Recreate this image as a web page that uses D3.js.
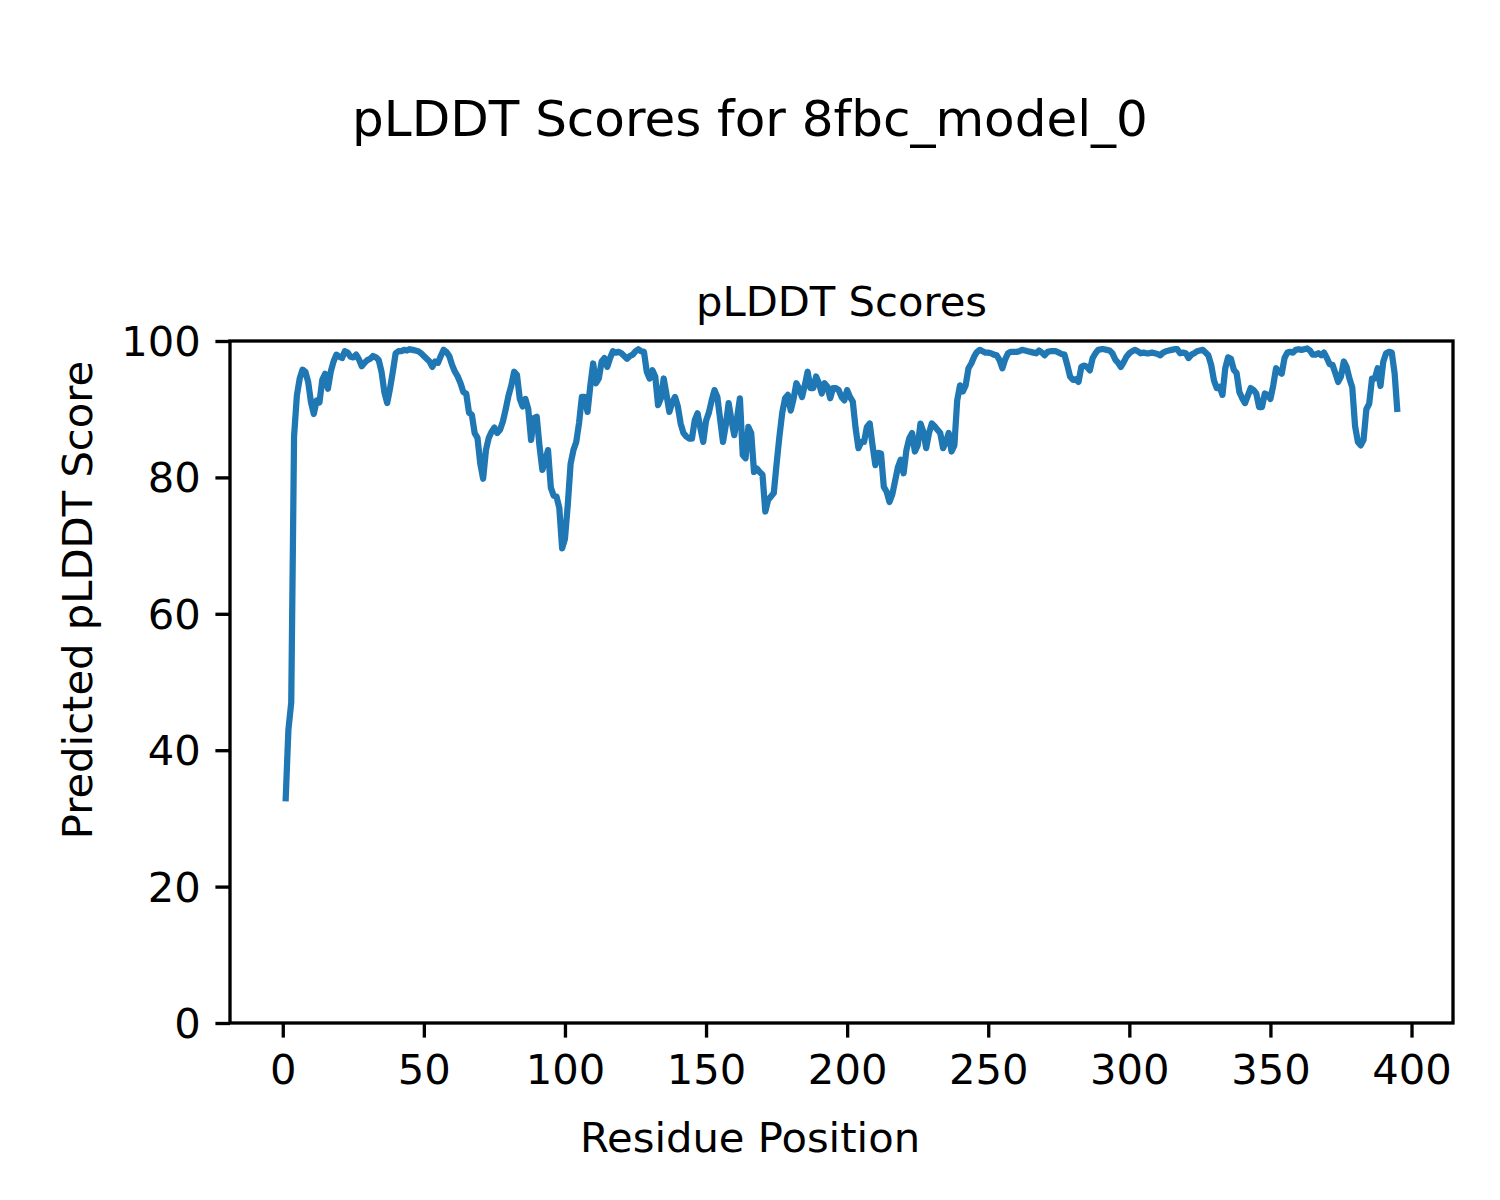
<!DOCTYPE html>
<html>
<head>
<meta charset="utf-8">
<script src="https://cdn.jsdelivr.net/npm/d3@7"></script>
<style>
  html, body { margin: 0; padding: 0; background: #ffffff; }
  svg { display: block; }
  text { font-family: "DejaVu Sans", sans-serif; fill: #000; }
</style>
</head>
<body>
<svg id="chart" width="1500" height="1200"></svg>
<script>
// ---- Data ----
const suptitleText = "pLDDT Scores for 8fbc_model_0";
const axesTitleText = "pLDDT Scores";
const xLabelText = "Residue Position";
const yLabelText = "Predicted pLDDT Score";
const xTicks = [0, 50, 100, 150, 200, 250, 300, 350, 400];
const yTicks = [0, 20, 40, 60, 80, 100];

// pLDDT per residue, residues 1..395
const plddt = [
  32.5, 43, 47, 86, 92, 94.5, 95.8, 95.5, 94, 91,
  89.3, 91.3, 91, 94.3, 95.2, 93, 95.5, 97, 98, 97.7,
  97.5, 98.5, 98.3, 97.7, 97.6, 98, 97.3, 96.3, 96.8, 97.2,
  97.4, 97.8, 97.6, 97.2, 95.5, 92.5, 90.9, 93, 95.5, 98.2,
  98.5, 98.5, 98.7, 98.6, 98.8, 98.7, 98.6, 98.5, 98.2, 97.8,
  97.4, 97, 96.2, 97, 96.8, 97.8, 98.7, 98.4, 97.8, 96.5,
  95.5, 94.8, 93.8, 92.5, 92.3, 89.5, 89.2, 86.5, 85.8, 82,
  79.8, 84, 85.8, 86.7, 87.3, 86.5, 87, 88.2, 90, 92,
  93.5, 95.5, 95, 91.5, 90.4, 91.5, 90, 85.5, 88.7, 88.9,
  84.5, 81.1, 82.5, 84, 78.5, 77.3, 77.2, 75.5, 69.6, 71,
  76, 82, 84, 85.2, 88, 91.8, 91.8, 89.6, 93.5, 96.7,
  93.8, 94.5, 97, 97.5, 96.2, 97.5, 98.5, 98.3, 98.4, 98.2,
  97.8, 97.4, 97.8, 98, 98.5, 98.8, 98.5, 98.4, 95.5, 94.5,
  95.7, 94.8, 90.6, 91.6, 94.5, 92.1, 89.6, 91, 91.8, 90.4,
  87.9, 86.5, 86, 85.7, 85.7, 88.4, 89.4, 87.2, 85.2, 88.3,
  89.5, 91.3, 92.8, 91.8, 88.5, 85.2, 87.7, 90.9, 88.4, 86.2,
  88.7, 91.6, 83.3, 82.8, 87.4, 86.5, 80.8, 81.3, 80.8, 80.4,
  75, 76.7, 77.2, 77.7, 82, 86, 89.5, 91.6, 92.1, 89.8,
  91.5, 93.8, 93, 91.8, 93.5, 95.5, 93.1, 93.1, 94.8, 93.8,
  92.3, 93.8, 93.3, 91.6, 93.1, 93.1, 92.8, 91.8, 91.3, 92.8,
  91.8, 91.1, 87.2, 84.3, 85.2, 85.2, 87.4, 87.9, 84.7, 81.8,
  83.6, 83.5, 78.6, 77.9, 76.4, 77.5, 79.5, 81.5, 82.6, 80.6,
  84, 85.7, 86.5, 83.8, 84.7, 87.9, 86.7, 84.3, 86.5, 87.9,
  87.5, 87, 86.5, 84.3, 85.2, 86.5, 83.8, 84.7, 91.3, 93.5,
  92.6, 93.5, 96, 96.7, 97.7, 98.4, 98.7, 98.5, 98.3, 98.3,
  98.2, 98, 97.9, 97.2, 96, 97.3, 98.2, 98.4, 98.4, 98.4,
  98.5, 98.7, 98.6, 98.5, 98.4, 98.3, 98.2, 98.6, 98.3, 97.9,
  98.4, 98.5, 98.5, 98.5, 98.3, 98.1, 98, 96.5, 94.8, 94.3,
  94.4, 94, 96.2, 96.4, 96.2, 95.7, 97.5, 98.2, 98.7, 98.8,
  98.8, 98.7, 98.6, 98.2, 97.3, 96.8, 96.2, 96.9, 97.7, 98.2,
  98.5, 98.7, 98.5, 98.2, 98.3, 98.2, 98.2, 98.3, 98.2, 98.1,
  97.9, 98.3, 98.5, 98.6, 98.7, 98.8, 98.8, 98.2, 98.3, 98.2,
  97.5, 98, 98.2, 98.5, 98.6, 98.7, 98.3, 97.9, 96.5, 94.2,
  93.1, 93.3, 92.1, 96, 97.6, 97.4, 95.8, 95.3, 92.5, 91.6,
  90.9, 92, 93.1, 92.8, 92.3, 90.3, 90.3, 92.3, 92.1, 91.5,
  93.5, 96, 95.5, 95.2, 97.5, 98.3, 98.4, 98.3, 98.7, 98.8,
  98.7, 98.8, 98.9, 98.6, 98, 98, 98.2, 97.9, 98.3, 97.5,
  96.6, 96.5, 95.3, 94, 94.8, 97, 96.2, 94.5, 93.2, 87.5,
  85.2, 84.7, 85.5, 90, 90.8, 94.5, 94.5, 96, 93.4, 97,
  98.2, 98.4, 98.3, 95.3, 89.6
];
const residues = plddt.map((_, i) => i + 1);

// ---- Layout ----
const W = 1500, H = 1200;
const plot = { left: 230, right: 1453, top: 341, bottom: 1023 };
const fontSize = 41.7;
const tickLen = 14.6, tickPad = 14.6, spineW = 3.33;

const svg = d3.select("#chart");
svg.append("rect").attr("width", W).attr("height", H).attr("fill", "#fff");

const xMin = d3.min(residues), xMax = d3.max(residues);
const xMargin = (xMax - xMin) * 0.05;
const x = d3.scaleLinear().domain([xMin - xMargin, xMax + xMargin]).range([plot.left, plot.right]);
const y = d3.scaleLinear().domain([0, 100]).range([plot.bottom, plot.top]);

// Line
const line = d3.line().x((d, i) => x(residues[i])).y(d => y(d));
svg.append("path")
  .datum(plddt)
  .attr("d", line)
  .attr("fill", "none")
  .attr("stroke", "#1f77b4")
  .attr("stroke-width", 6.25)
  .attr("stroke-linejoin", "round")
  .attr("stroke-linecap", "butt");

// Axes
const xAxis = d3.axisBottom(x).tickValues(xTicks).tickSize(tickLen).tickPadding(tickPad).tickSizeOuter(0);
const yAxis = d3.axisLeft(y).tickValues(yTicks).tickSize(tickLen).tickPadding(tickPad).tickSizeOuter(0);

const gx = svg.append("g").attr("transform", `translate(0,${plot.bottom})`).call(xAxis);
const gy = svg.append("g").attr("transform", `translate(${plot.left},0)`).call(yAxis);
[gx, gy].forEach(g => {
  g.select(".domain").remove();
  g.selectAll(".tick line").attr("stroke", "#000").attr("stroke-width", spineW);
  g.selectAll(".tick text")
    .attr("font-family", "DejaVu Sans, sans-serif")
    .attr("font-size", fontSize)
    .attr("fill", "#000");
});
gx.selectAll(".tick text").attr("dy", null).attr("y", tickLen + tickPad + 0.76 * fontSize);
gy.selectAll(".tick text").attr("dy", null).attr("dominant-baseline", "central");

// Spines (frame)
svg.append("rect")
  .attr("x", plot.left).attr("y", plot.top)
  .attr("width", plot.right - plot.left).attr("height", plot.bottom - plot.top)
  .attr("fill", "none").attr("stroke", "#000").attr("stroke-width", spineW);

// Titles & labels
svg.append("text")
  .attr("x", W / 2).attr("y", 136)
  .attr("text-anchor", "middle")
  .attr("font-size", 50)
  .text(suptitleText);

svg.append("text")
  .attr("x", (plot.left + plot.right) / 2).attr("y", 316)
  .attr("text-anchor", "middle")
  .attr("font-size", fontSize)
  .text(axesTitleText);

svg.append("text")
  .attr("x", W / 2).attr("y", 1152)
  .attr("text-anchor", "middle")
  .attr("font-size", fontSize)
  .text(xLabelText);

svg.append("text")
  .attr("transform", `translate(92,600) rotate(-90)`)
  .attr("text-anchor", "middle")
  .attr("font-size", fontSize)
  .text(yLabelText);
</script>
</body>
</html>
